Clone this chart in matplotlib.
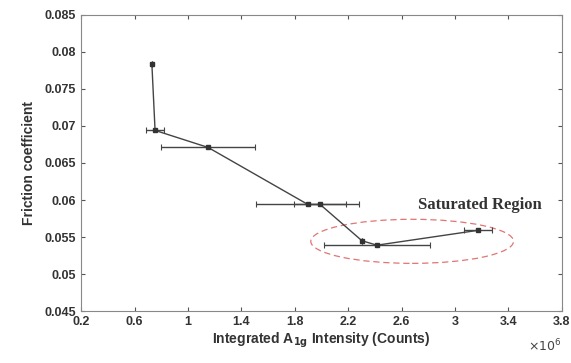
import matplotlib.pyplot as plt
from matplotlib.patches import Ellipse
import numpy as np

# integrated A1g intensity (x 10^6) and friction coefficient
intensity = [0.73, 0.754, 1.151, 1.898, 1.99, 2.303, 2.415, 3.17]
friction = [0.0784, 0.0694, 0.0671, 0.0594, 0.0594, 0.0545, 0.0539, 0.0559]
intensity_err = [0.0, 0.07, 0.354, 0.386, 0.196, 0.0, 0.398, 0.106]

xticks = [0.2, 0.6, 1.0, 1.4, 1.8, 2.2, 2.6, 3.0, 3.4, 3.8]
xtick_labels = ["0.2", "0.6", "1", "1.4", "1.8", "2.2", "2.6", "3", "3.4", "3.8"]
yticks = [0.045, 0.05, 0.055, 0.06, 0.065, 0.07, 0.075, 0.08, 0.085]
ytick_labels = ["0.045", "0.05", "0.055", "0.06", "0.065", "0.07", "0.075", "0.08", "0.085"]

plt.rcParams['font.family'] = ['Liberation Sans', 'DejaVu Sans']

fig = plt.figure(figsize=(5.71, 3.63), dpi=100)
ax = fig.add_axes([0.142, 0.143, 0.842, 0.816])

ax.errorbar(intensity, friction, xerr=intensity_err, fmt='-', color='#444444',
            lw=1.0, elinewidth=1.0, capsize=2.5, capthick=0.8,
            marker='s', markersize=2.2, markerfacecolor='#333333', markeredgecolor='#333333')

ell = Ellipse((2.679, 0.05442), 1.518, 0.00595, fill=False, edgecolor='#d9534f',
              linestyle=(0, (5, 3)), lw=0.9, alpha=0.8)
ax.add_patch(ell)
ax.text(2.72, 0.0593, "Saturated Region", fontfamily='Liberation Serif',
        fontweight='bold', fontsize=12, color='#333333', va='center', ha='left')

ax.set_xlim(0.2, 3.8)
ax.set_ylim(0.045, 0.085)
ax.set_xticks(xticks)
ax.set_xticklabels(xtick_labels)
ax.set_yticks(yticks)
ax.set_yticklabels(ytick_labels)
ax.tick_params(direction='in', length=3, labelsize=9, colors='#555555',
               labelcolor='#333333', top=True, right=True)
for lab in ax.get_xticklabels() + ax.get_yticklabels():
    lab.set_fontweight('bold')
for s in ax.spines.values():
    s.set_color('#888888')
    s.set_linewidth(0.8)

ax.set_xlabel(r"Integrated A$_{\mathbf{1g}}$ Intensity (Counts)", fontsize=10,
              fontweight='bold', color='#333333', labelpad=2)
ax.set_ylabel("Friction coefficient", fontsize=10, fontweight='bold',
              color='#333333', labelpad=6)
ax.text(1.0, -0.09, r"$\times 10^{6}$", transform=ax.transAxes, ha='right',
        va='top', fontsize=9, color='#444444')

fig.savefig("out.png", dpi=100)
